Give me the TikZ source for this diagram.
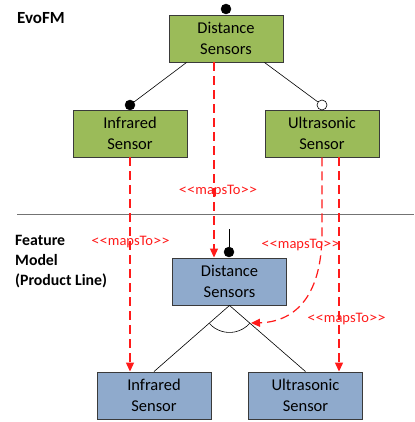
\documentclass[tikz,border=0pt]{standalone}
\usepackage{fontspec}
\setmainfont{Carlito}
\usetikzlibrary{arrows.meta,calc}
\definecolor{evogreen}{HTML}{9BBB59}
\definecolor{plblue}{HTML}{8FAACC}
\definecolor{boxline}{HTML}{3A3A3A}
\definecolor{mapred}{HTML}{FF1A1A}
% wide angle brackets for stereotypes
\newcommand\stlt{\scalebox{1.15}[1]{<}}
\newcommand\stgt{\scalebox{1.15}[1]{>}}
\newcommand\mapsToStereo{\stlt\stlt mapsTo\stgt\stgt}
\tikzset{
  feat/.style={draw=boxline, line width=0.9pt, minimum width=114pt, minimum height=47pt,
    inner sep=0pt, align=center, font=\fontsize{16.5}{20.5}\selectfont},
  evofeat/.style={feat, fill=evogreen},
  plfeat/.style={feat, fill=plblue},
  tree/.style={draw=black, line width=0.6pt},
  fulldot/.style={circle, fill=black, draw=black, inner sep=0pt, minimum size=10pt},
  opendot/.style={circle, fill=white, draw=black, line width=0.6pt, inner sep=0pt, minimum size=10pt},
  maps/.style={draw=mapred, line width=1.2pt, dash pattern=on 9pt off 5pt,
    -{Triangle[length=9pt,width=8pt]}},
  mapslabel/.style={text=mapred, font=\fontsize{14.5}{16}\selectfont, inner sep=0pt, anchor=base},
  heading/.style={font=\bfseries\fontsize{17}{20}\selectfont, inner sep=0pt, anchor=west},
  subheading/.style={font=\bfseries\fontsize{15.8}{20}\selectfont, inner sep=0pt, align=left, anchor=west}
}
\begin{document}
\begin{tikzpicture}[x=1pt, y=-1pt]
\useasboundingbox (0,0) rectangle (414,422);

% evolution feature model (EvoFM)
\node[heading] (evo) at (17,18) {EvoFM};
\node[evofeat] (ds1) at (226,38.5) {Distance\\Sensors};
\node[evofeat] (ir1) at (130,133.5) {Infrared\\Sensor};
\node[evofeat] (us1) at (322,133.5) {Ultrasonic\\Sensor};
\node[fulldot] (ds1dot) at (226,9) {};
\node[fulldot] (ir1dot) at (130,105) {};
\node[opendot] (us1dot) at (322,105) {};
\coordinate (dsl) at ([xshift=18pt]ds1.south west);
\coordinate (dsr) at ([xshift=-19pt]ds1.south east);
\draw[tree] (dsl) -- (ir1dot);
\draw[tree] (dsr) -- (us1dot);

% separator
\coordinate (sepl) at (17,214);
\coordinate (sepr) at (414,214);
\draw[draw=black!55, line width=0.8pt] (sepl) -- (sepr);

% product line feature model
\node[subheading] (fm) at (15,262) {Feature\\Model\\(Product Line)};
\node[plfeat] (ds2) at (229.5,281.5) {Distance\\Sensors};
\node[plfeat] (ir2) at (154,395.5) {Infrared\\Sensor};
\node[plfeat] (us2) at (305.5,395.5) {Ultrasonic\\Sensor};
\node[fulldot] (ds2dot) at (229,252) {};
\coordinate (stem) at (229,229);
\draw[tree] (stem) -- (ds2dot);
\draw[tree] (ds2.south) -- (ir2.north);
\draw[tree] (ds2.south) -- (us2.north);
\draw[tree] ([shift={(138.2:27)}]ds2.south) arc[start angle=138.2, end angle=41.4, radius=27];

% mapsTo links
\coordinate (m1a) at (ir1.south);
\coordinate (m1b) at (m1a |- ir2.north);
\draw[maps] (m1a) -- (m1b);
\coordinate (m2a) at ([xshift=-12pt]ds1.south);
\coordinate (m2b) at (m2a |- ds2.north);
\draw[maps] (m2a) -- (m2b);
\coordinate (m3a) at (us1.south);
\coordinate (m3e) at (251,323);
\draw[maps] (m3a) -- ++(0,75) .. controls (322,300) and (292,322) .. (m3e);
\coordinate (m4a) at ([xshift=17pt]us1.south);
\coordinate (m4b) at (m4a |- us2.north);
\draw[maps] (m4a) -- (m4b);

\node[mapslabel] (l1) at (218,194) {\mapsToStereo};
\node[mapslabel] (l2) at (130.5,245.5) {\mapsToStereo};
\node[mapslabel] (l3) at (300.5,248) {\mapsToStereo};
\node[mapslabel] (l4) at (346.5,322) {\mapsToStereo};
\end{tikzpicture}
\end{document}
